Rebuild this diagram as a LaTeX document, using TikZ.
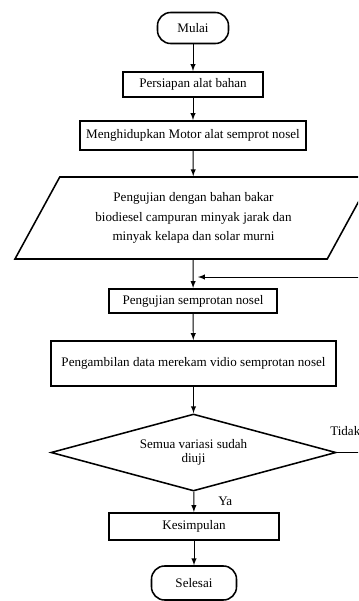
\documentclass[tikz,border=0pt]{standalone}
\usepackage{fontspec}
\setmainfont{Liberation Serif}
\usetikzlibrary{shapes.geometric}

\begin{document}
\begin{tikzpicture}[x=0.025cm, y=-0.025cm,
    font=\fontsize{9.3}{11}\selectfont,
    proses/.style={draw, line width=1.4pt, inner sep=0pt},
    ujung/.style={draw, line width=1.1pt, rounded corners=0.33cm, inner sep=0pt},
    panah/.style={-latex, line width=0.7pt}]
    % Page size, right side cut off
    \useasboundingbox (0,0) rectangle (358,601);
    \clip (0,0) rectangle (358,601);
    % Draw steps
    \node [ujung, minimum width=1.775cm, minimum height=0.775cm] (mulai) at (193,28) {Mulai};
    \node [proses, minimum width=3.5cm, minimum height=0.625cm] (siap) at (193,84.5) {Persiapan alat bahan};
    \node [proses, minimum width=5.65cm, minimum height=0.725cm] (motor) at (193,135.5) {Menghidupkan Motor alat semprot nosel};
    \node [draw, line width=1.1pt, trapezium, trapezium left angle=48.7, trapezium right angle=131.3,
        trapezium stretches body, minimum width=8.925cm, minimum height=2.05cm, inner sep=0pt,
        align=center, font=\fontsize{9.3}{13.9}\selectfont] (uji) at (193.5,218)
        {Pengujian dengan bahan bakar\\biodiesel campuran minyak jarak dan\\minyak kelapa dan solar murni};
    \node [proses, minimum width=4.175cm, minimum height=0.6cm] (semprot) at (193,301) {Pengujian semprotan nosel};
    \node [proses, minimum width=7.1cm, minimum height=1.125cm] (ambil) at (193.5,363.5) {Pengambilan data merekam vidio semprotan nosel};
    \node [draw, line width=1.1pt, diamond, aspect=3.7, minimum width=7.125cm, minimum height=1.925cm, inner sep=0pt,
        align=center, font=\fontsize{9.3}{9.8}\selectfont] (cek) at (193.5,452.5) {Semua variasi sudah\\diuji};
    \node [proses, minimum width=4.25cm, minimum height=0.675cm] (simpul) at (194,526.5) {Kesimpulan};
    \node [ujung, minimum width=2.125cm, minimum height=0.85cm] (selesai) at (194,583) {Selesai};
    % Labels
    \node [anchor=base west, inner sep=0pt] (tidak) at (330,435) {Tidak};
    \node [anchor=base west, inner sep=0pt] (ya) at (218,505) {Ya};
    % Draw arrows
    \draw [panah] (mulai) -- (siap);
    \draw [panah] (siap) -- (motor);
    \draw [panah] (motor) -- (uji);
    \draw [panah] (uji) -- (semprot);
    \draw [panah] (semprot) -- (ambil);
    \draw [panah] (ambil) -- (cek);
    \draw [panah] (cek) -- (simpul);
    \draw [panah] (simpul) -- (selesai);
    % Loop back when not all variations are tested
    \coordinate (kanan) at (390,277);
    \coordinate (balik) at (198,277);
    \draw [panah] (cek.east) -| (kanan) -- (balik);
\end{tikzpicture}
\end{document}
